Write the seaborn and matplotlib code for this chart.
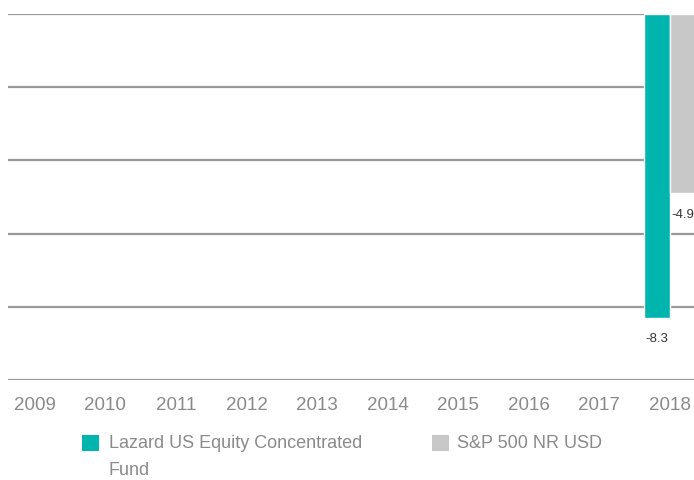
import numpy as np
import pandas as pd
import seaborn as sns
import matplotlib.pyplot as plt
from matplotlib.patches import Rectangle

# dados
anos = [str(a) for a in range(2009, 2019)]
fundo = [np.nan] * 9 + [-8.3]
indice = [np.nan] * 9 + [-4.9]
series = ['Lazard US Equity Concentrated\nFund', 'S&P 500 NR USD']
cores = ['#00B5AD', '#C8C8C8']

df = pd.DataFrame({
    'ano': anos * 2,
    'valor': fundo + indice,
    'serie': [series[0]] * len(anos) + [series[1]] * len(anos),
})

sns.set_style('white')
plt.rcParams['font.family'] = ['Liberation Sans', 'DejaVu Sans']

W, H = 694, 480
fig = plt.figure(figsize=(W / 100, H / 100), dpi=100)
ax = fig.add_axes([8 / W, 100 / H, 686 / W, 366 / H])

sns.barplot(data=df, x='ano', y='valor', hue='serie', order=anos, hue_order=series,
            palette=cores, width=0.74, ax=ax, legend=False, saturation=1)

for cont in ax.containers:
    ax.bar_label(cont, fmt='%.1f', padding=11, fontsize=9.5, color='#333333')

ax.set_ylim(-10, 0)
ax.set_xlim(-0.38, 9.34)
ax.set_yticks(np.arange(-10, 1, 2))
ax.yaxis.grid(True, color='#999999', linewidth=1.6)
ax.set_axisbelow(True)
ax.set_yticklabels([])
ax.tick_params(axis='y', length=0)
ax.tick_params(axis='x', length=0, pad=12, labelsize=13.5, labelcolor='#8a8a8a')
ax.set_xlabel('')
ax.set_ylabel('')
for s in ax.spines.values():
    s.set_visible(False)

# legenda manual (quadrado alinhado com a primeira linha)
pos_legenda = [(82, 109), (432, 457)]
for (xq, xt), nome, cor in zip(pos_legenda, series, cores):
    fig.add_artist(Rectangle((xq / W, 1 - 451 / H), 17 / W, 16 / H,
                             transform=fig.transFigure, color=cor, lw=0))
    fig.text(xt / W, 1 - 435 / H, nome, ha='left', va='top', fontsize=13,
             color='#8a8a8a', linespacing=1.8)

fig.savefig('out.png', dpi=100)
